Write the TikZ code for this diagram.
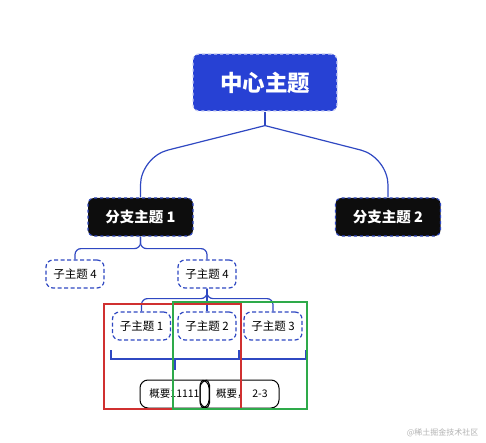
\documentclass[tikz,border=0pt]{standalone}
\usepackage{fontspec}
\newfontfamily\cjk{Noto Sans CJK SC}
\usetikzlibrary{positioning}
\definecolor{topicblue}{HTML}{2741D4}
\definecolor{linkblue}{HTML}{2F48C2}
\definecolor{boxred}{HTML}{D03030}
\definecolor{boxgreen}{HTML}{2EAA4A}

\begin{document}
\begin{tikzpicture}[
x=1pt, y=-1pt,
central/.style={draw=white!75!topicblue, dashed, fill=topicblue, text=white, rounded corners=6pt, line width=1.2pt, minimum width=144pt, minimum height=57pt, font=\cjk\bfseries\fontsize{22.5}{26}\selectfont},
branch/.style={draw=linkblue, dashed, fill=black!95, text=white, rounded corners=6pt, line width=1.2pt, minimum width=105pt, minimum height=38pt, font=\cjk\bfseries\fontsize{14.5}{17}\selectfont},
topic/.style={draw=linkblue, dash pattern=on 4pt off 2.5pt, fill=white, rounded corners=7pt, line width=1.2pt, minimum width=58pt, minimum height=28pt, inner sep=1pt, font=\cjk\fontsize{11.5}{14}\selectfont},
summary/.style={draw=black, rounded corners=8pt, line width=1pt, minimum height=28pt, inner sep=1pt, font=\cjk\fontsize{10.5}{13}\selectfont},
link/.style={draw=linkblue, line width=1.2pt},
frame/.style={line width=1.4pt}
]
\useasboundingbox (0,0) rectangle (486,443);

\node[central] (center) at (265,82.5) {中心主题};
\node[branch] (branchA) at (140.5,217) {分支主题 1};
\node[branch] (branchB) at (388,217) {分支主题 2};

\node[topic] (subA) at (75,274) {子主题 4};
\node[topic] (subB) at (207,274) {子主题 4};

\node[topic] (leafA) at (141.5,326) {子主题 1};
\node[topic] (leafB) at (207,326) {子主题 2};
\node[topic] (leafC) at (273,326) {子主题 3};

\node[summary, minimum width=79pt] (sumB) at (239.5,394) {\ \ 概要，\ \ 2-3};
\node[summary, minimum width=69pt] (sumA) at (174.5,394) {概要11111};
\draw[line width=1pt, rounded corners=5pt] (200,380) rectangle (209.5,408);

% center to branches
\draw[link] (center.south) -- ++(0,14) coordinate (fork);
\draw[link, rounded corners=28pt] (fork) -- (140.5,157) -- (branchA.north);
\draw[link, rounded corners=28pt] (fork) -- (388,157) -- (branchB.north);

% branch 1 to sub topics
\draw[link, rounded corners=6pt] (branchA.south) -- ++(0,12) -| (subA.north);
\draw[link, rounded corners=6pt] (branchA.south) -- ++(0,12) -| (subB.north);

% sub topic to leaves
\draw[link] (subB.south) -- (leafB.north);
\draw[link, rounded corners=6pt] (subB.south) -- ++(0,10) -| (leafA.north);
\draw[link, rounded corners=6pt] (subB.south) -- ++(0,10) -| (leafC.north);

% summary brackets
\draw[link] (111,350) -- (111,359) -- (306,359) -- (306,350);
\draw[link] (239,350) -- (239,359);
\draw[link] (175,359) -- (175,370);

% selection frames
\draw[frame, boxred] (104,304) rectangle (241,409);
\draw[frame, boxgreen] (173,302) rectangle (307,409);

\node[text=black!30, font=\cjk\fontsize{8}{10}\selectfont, anchor=east] (mark) at (482,433) {@稀土掘金技术社区};
\end{tikzpicture}
\end{document}
